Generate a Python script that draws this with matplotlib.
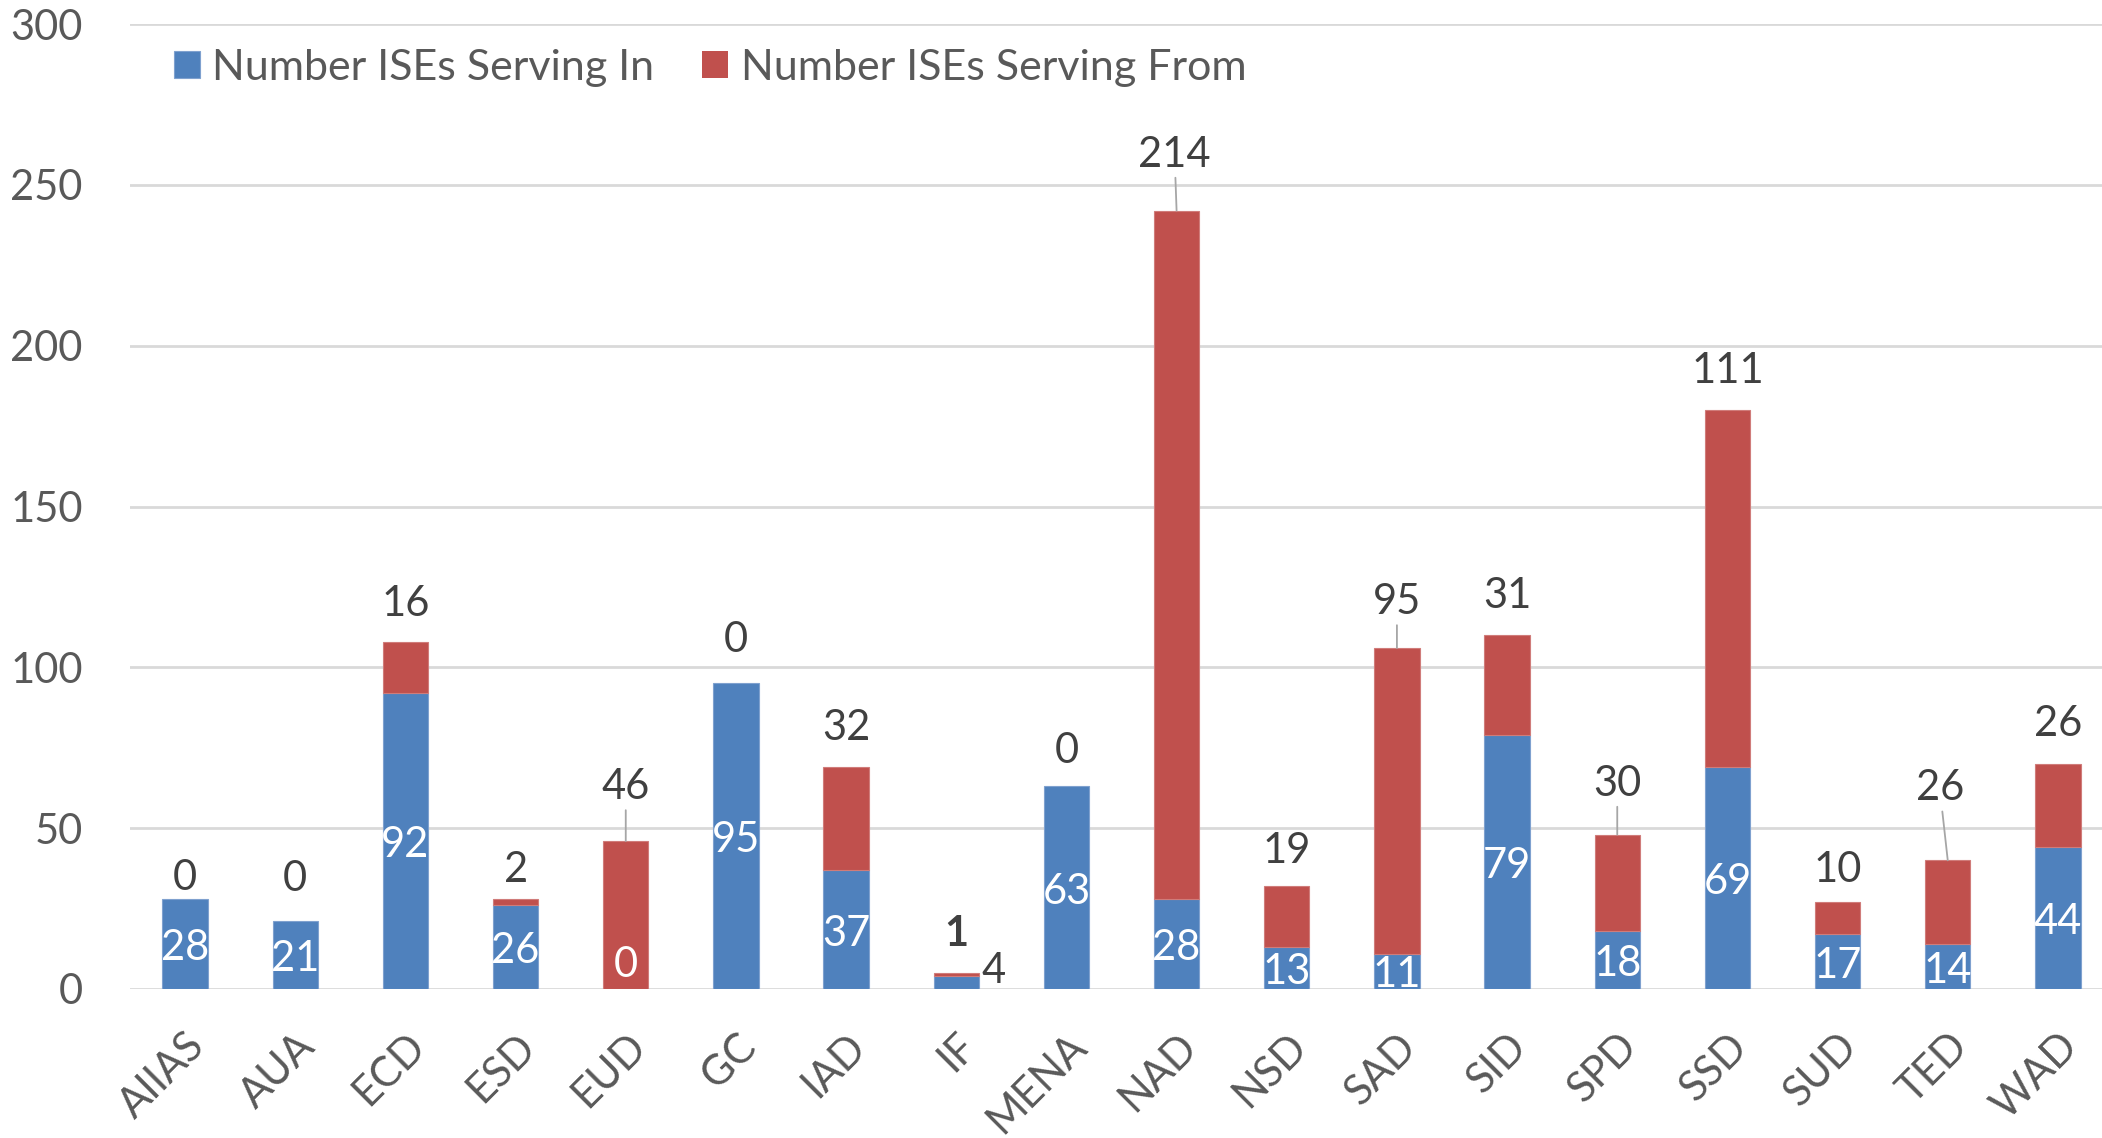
import matplotlib
matplotlib.use("Agg")
import matplotlib.pyplot as plt
import numpy as np

categories = ["AIIAS", "AUA", "ECD", "ESD", "EUD", "GC", "IAD", "IF", "MENA",
              "NAD", "NSD", "SAD", "SID", "SPD", "SSD", "SUD", "TED", "WAD"]
serving_in = [28, 21, 92, 26, 0, 95, 37, 4, 63, 28, 13, 11, 79, 18, 69, 17, 14, 44]
serving_from = [0, 0, 16, 2, 46, 0, 32, 1, 0, 214, 19, 95, 31, 30, 111, 10, 26, 26]
series_names = ["Number ISEs Serving In", "Number ISEs Serving From"]
yticks = [0, 50, 100, 150, 200, 250, 300]

# label styling (offsets in pixels, leader-line flags)
from_label_dy = [21, 42, 38, 29, 54, 43, 39, 39, 35, 56, 35, 46, 39, 51, 39, 32, 72, 40]
from_label_dx = [0, 0, 0, 0, 0, 0, 0, 0, 0, -2, 0, 0, 0, 0, 0, 0, -8, 0]
leader = [False, False, False, False, True, False, False, False, False,
          True, False, True, False, True, False, False, True, False]

BLUE = "#4F81BD"
RED = "#C0504D"
GREY_TXT = "#595959"
DARK_TXT = "#404040"
GRID = "#D9D9D9"

plt.rcParams['font.family'] = ['Lato', 'DejaVu Sans']

W, H = 2102, 1138
dpi = 100
fig = plt.figure(figsize=(W / dpi, H / dpi), dpi=dpi)
left_px, right_px = 130, 2113
y0_px, ytop_px = 989, 24
ax = fig.add_axes([left_px / W, (H - y0_px) / H, (right_px - left_px) / W, (y0_px - ytop_px) / H])

x = np.arange(len(categories))
bw = 0.41
lw_in = [0.8 if v > 0 else 0 for v in serving_in]
lw_from = [0.8 if v > 0 else 0 for v in serving_from]
b1 = ax.bar(x, serving_in, width=bw, color=BLUE, edgecolor="#7FA1CF", linewidth=lw_in,
            label=series_names[0], zorder=3)
b2 = ax.bar(x, serving_from, width=bw, bottom=serving_in, color=RED, edgecolor="#D07C7A",
            linewidth=lw_from, label=series_names[1], zorder=3)

ax.set_xlim(-0.5, len(categories) - 0.5)
ax.set_ylim(0, 300)
ax.set_yticks(yticks)
ax.yaxis.grid(True, color=GRID, linewidth=2, zorder=0)
ax.set_axisbelow(True)
for s in ["top", "right", "left", "bottom"]:
    ax.spines[s].set_visible(False)
ax.tick_params(axis="both", length=0, labelsize=30, colors=GREY_TXT)
ax.tick_params(axis="y", pad=34)
ax.set_xticks(x)
ax.set_xticklabels(categories, rotation=45, ha="right", va="top", rotation_mode="anchor")
ax.tick_params(axis="x", pad=27)

px2pt = 72.0 / dpi

# blue labels (centered in segment)
for i, v in enumerate(serving_in):
    if categories[i] == "IF":
        ax.annotate(str(v), xy=(i + bw / 2, v / 2), xytext=(2, 8), textcoords="offset points",
                    ha="left", va="center", fontsize=30, color=DARK_TXT, zorder=5)
    elif v == 0:
        ax.annotate(str(v), xy=(i, 0), xytext=(0, 24 * px2pt), textcoords="offset points",
                    ha="center", va="center", fontsize=30, color="white", zorder=5)
    else:
        ax.annotate(str(v), xy=(i, v / 2), xytext=(0, -3), textcoords="offset points",
                    ha="center", va="center", fontsize=30, color="white", zorder=5)

# red labels (above the stack)
for i, v in enumerate(serving_from):
    top = serving_in[i] + v
    kw = dict(ha="center", va="center", fontsize=30, color=DARK_TXT, zorder=5,
              textcoords="offset points",
              fontweight="bold" if categories[i] == "IF" else "normal")
    if leader[i]:
        kw["arrowprops"] = dict(arrowstyle="-", color="#A6A6A6", lw=1.3, shrinkA=1, shrinkB=0)
    ax.annotate(str(v), xy=(i, top), xytext=(from_label_dx[i] * px2pt, from_label_dy[i] * px2pt), **kw)

leg = ax.legend(ncol=2, loc="upper left", bbox_to_anchor=(135 / W, 1 - 10 / H),
                bbox_transform=fig.transFigure, frameon=False, fontsize=31,
                handlelength=0.6, handleheight=0.6, handletextpad=0.3, columnspacing=1.1,
                labelcolor=GREY_TXT)

fig.savefig("out.png", dpi=dpi)
